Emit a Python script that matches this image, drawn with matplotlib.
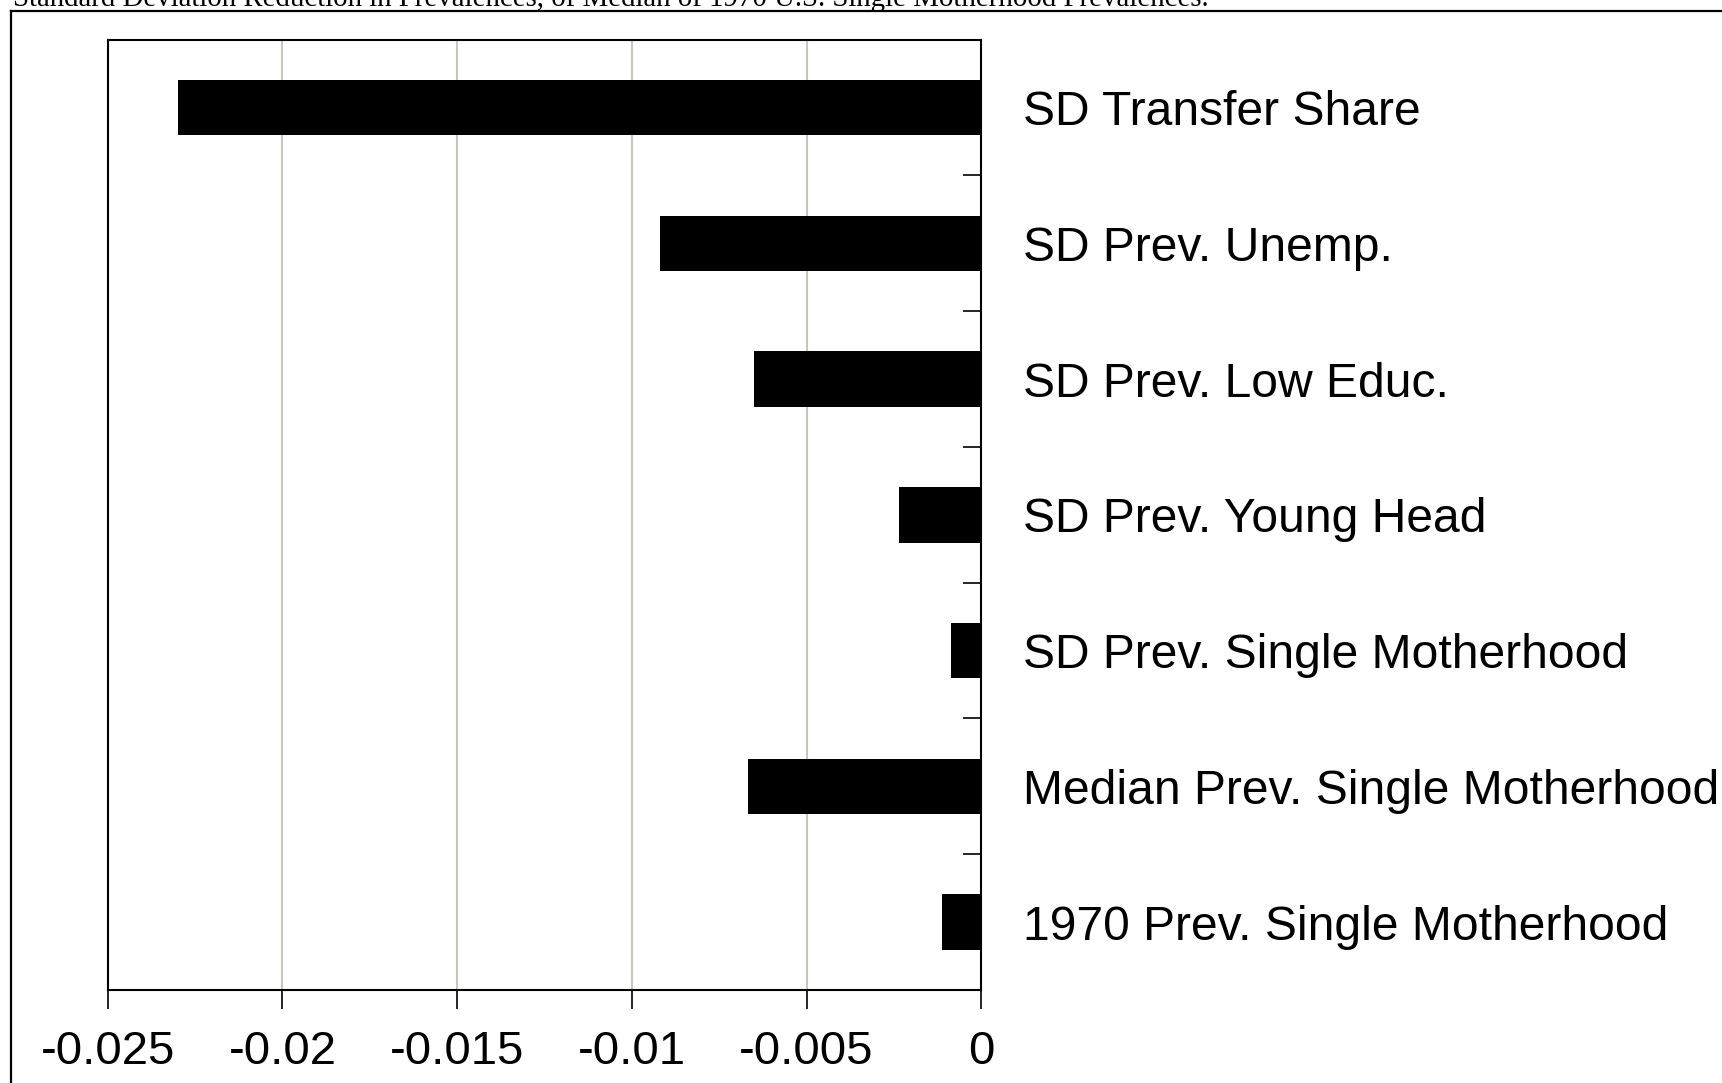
import matplotlib
matplotlib.use("Agg")
import matplotlib.pyplot as plt
from matplotlib.lines import Line2D

# values
labels = [
    "SD Transfer Share",
    "SD Prev. Unemp.",
    "SD Prev. Low Educ.",
    "SD Prev. Young Head",
    "SD Prev. Single Motherhood",
    "Median Prev. Single Motherhood",
    "1970 Prev. Single Motherhood",
]
values = [-0.0230, -0.00919, -0.00650, -0.00235, -0.00088, -0.00668, -0.00112]
xticks = [-0.025, -0.02, -0.015, -0.01, -0.005, 0]
xtick_labels = ["-0.025", "-0.02", "-0.015", "-0.01", "-0.005", "0"]

title = ("Standard Deviation Reduction in Prevalences, of Median of "
         "1970 U.S. Single Motherhood Prevalences.")

W, H = 1722, 1083
fig = plt.figure(figsize=(W / 100, H / 100), dpi=100)
ax = fig.add_axes([107.7 / W, 1 - 990 / H, (981.3 - 107.7) / W, (990 - 39.7) / H])

pos = list(range(len(labels)))
ax.barh(pos, values, height=0.41, color="black", zorder=3)

ax.set_xlim(-0.025, 0)
ax.set_ylim(len(labels) - 0.5, -0.5)
ax.set_xticks(xticks)
ax.set_xticklabels(xtick_labels, fontsize=34, family="Liberation Sans")
ax.tick_params(axis="x", direction="out", length=14, width=1.2, pad=15)
for x in xticks[1:-1]:
    ax.axvline(x, color="#c3c9bb", lw=1.5, zorder=1)

# category labels on the right, tick marks between categories
ax.yaxis.tick_right()
ax.set_yticks(pos)
ax.set_yticklabels(labels, fontsize=34.6, family="Liberation Sans")
ax.set_yticks([p + 0.5 for p in pos[:-1]], minor=True)
ax.tick_params(axis="y", which="major", length=0, pad=30)
ax.tick_params(axis="y", which="minor", direction="in", length=13, width=1.2)

for s in ax.spines.values():
    s.set_linewidth(1.5)

# outer frame (only left and top edges visible)
fig.add_artist(Line2D([11 / W, 11 / W], [1 - 11 / H, 0], color="black", lw=1.6))
fig.add_artist(Line2D([11 / W, 1], [1 - 11 / H, 1 - 11 / H], color="black", lw=1.6))

# title sits mostly above the top edge, as in the source
fig.text(13 / W, 1 - 6 / H, title, family="Liberation Serif", fontsize=20.8,
         ha="left", va="baseline")

fig.savefig("out.png", dpi=100)
